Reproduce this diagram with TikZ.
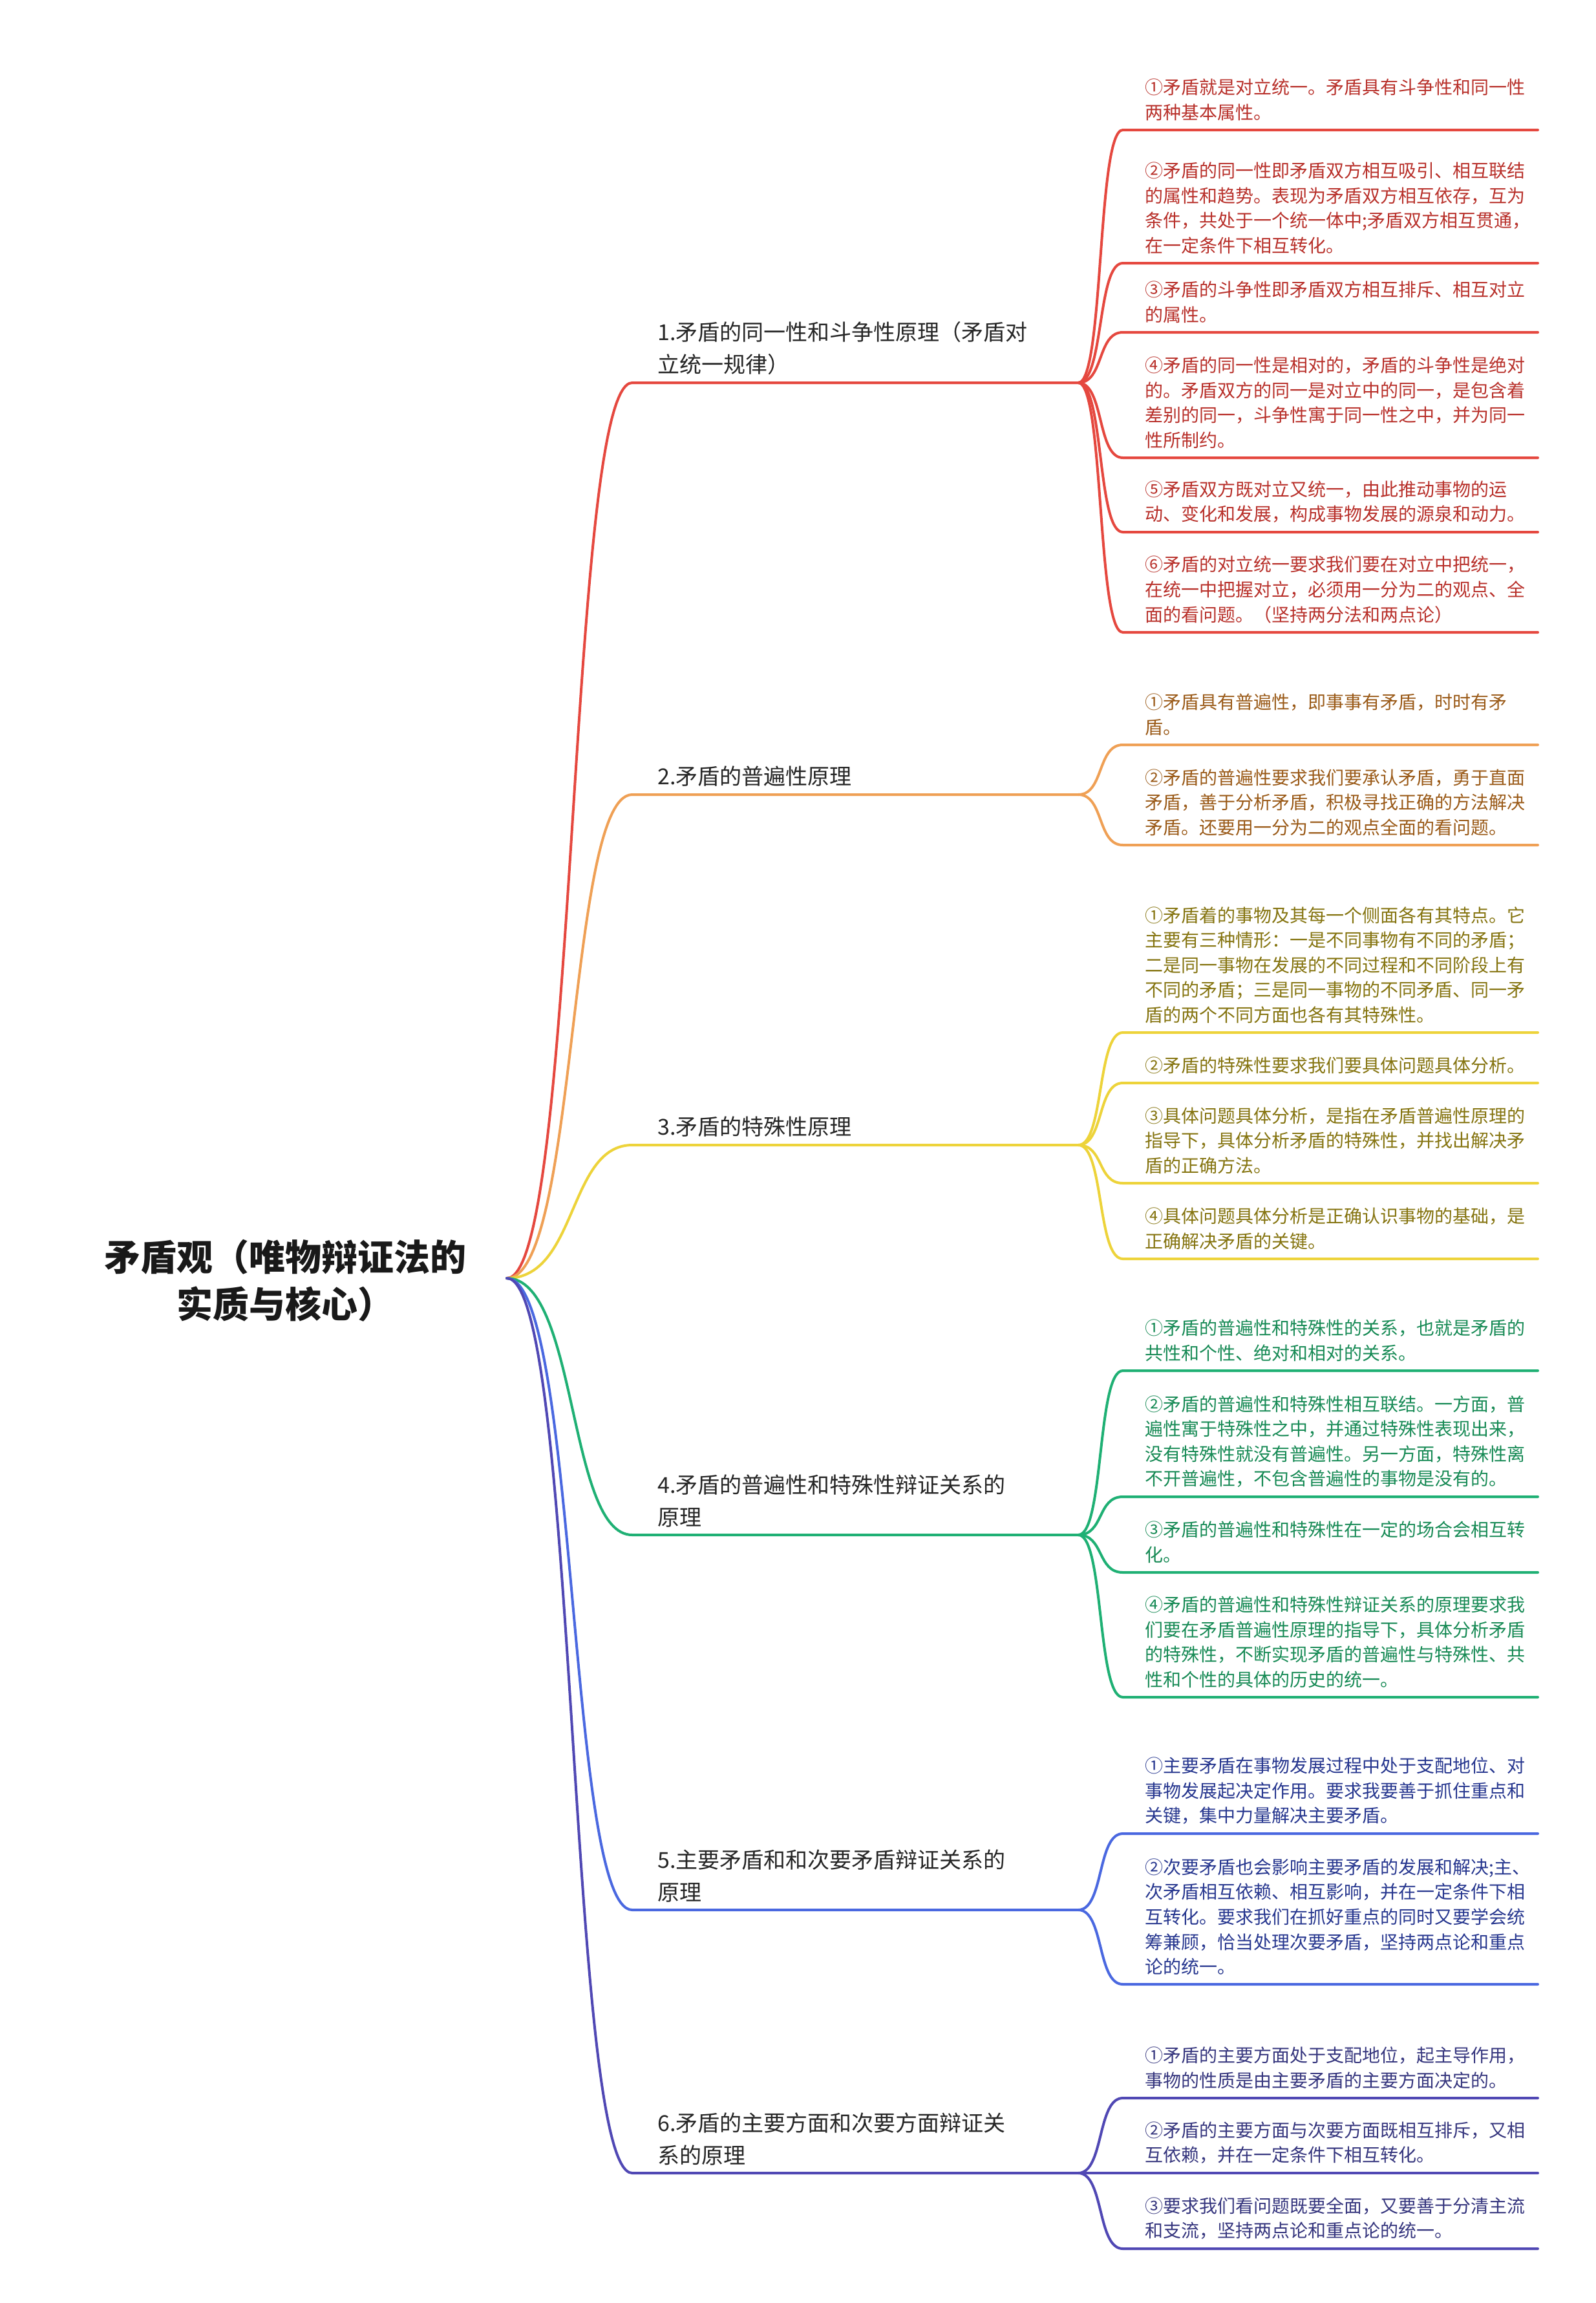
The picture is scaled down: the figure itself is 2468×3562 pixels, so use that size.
\documentclass[tikz,border=0pt]{standalone}
\usepackage{fontspec}
\setmainfont{Noto Sans CJK SC}
\definecolor{cR}{HTML}{E5483F}\definecolor{tR}{HTML}{B8302A}
\definecolor{cO}{HTML}{EFA055}\definecolor{tO}{HTML}{9A5A18}
\definecolor{cY}{HTML}{EDD33A}\definecolor{tY}{HTML}{857410}
\definecolor{cG}{HTML}{1FB074}\definecolor{tG}{HTML}{178A55}
\definecolor{cB}{HTML}{4A68E0}\definecolor{tB}{HTML}{27378F}
\definecolor{cI}{HTML}{5048B4}\definecolor{tI}{HTML}{36367E}
\begin{document}
\begin{tikzpicture}[x=1pt,y=-1pt,
 leaftext/.style={anchor=south west,inner sep=0pt,align=left,font=\fontsize{28}{38.6}\selectfont},
 branchtext/.style={anchor=south west,inner sep=0pt,align=left,font=\fontsize{34}{50}\selectfont,text=black!85},
 conn/.style={line width=4pt,line cap=round}]
\useasboundingbox (0,0) rectangle (2468,3562);
\node[align=center,font=\fontsize{56}{73}\selectfont\bfseries,text=black!90] (root) at (441,1981) {矛盾观（唯物辩证法的\\实质与核心）};
\coordinate (r) at (784,1977);
% macro-like helper
\newcommand\mybranch[5]{% name,color,textcolor,y,text
 \coordinate (#1s) at (978,#4); \coordinate (#1e) at (1668,#4);
 \node[branchtext] (#1t) at (1017,#4-12) {#5};
 \draw[conn,#2] (r) .. controls +(110,0) and +(-100,0) .. (#1s) -- (#1e);}
\newcommand\myleaf[6]{% name,branch,color,textcolor,y,text
 \coordinate (#1s) at (1737,#5); \coordinate (#1e) at (2379,#5);
 \node[leaftext,text=#4] (#1t) at (1771,#5-14) {#6};
 \draw[conn,#3] (#2e) .. controls +(40,0) and +(-40,0) .. (#1s) -- (#1e);}
\mybranch{b1}{cR}{}{592}{1.矛盾的同一性和斗争性原理（矛盾对\\立统一规律）}
\myleaf{l11}{b1}{cR}{tR}{201}{①矛盾就是对立统一。矛盾具有斗争性和同一性\\两种基本属性。}
\myleaf{l12}{b1}{cR}{tR}{407}{②矛盾的同一性即矛盾双方相互吸引、相互联结\\的属性和趋势。表现为矛盾双方相互依存，互为\\条件，共处于一个统一体中;矛盾双方相互贯通，\\在一定条件下相互转化。}
\myleaf{l13}{b1}{cR}{tR}{514}{③矛盾的斗争性即矛盾双方相互排斥、相互对立\\的属性。}
\myleaf{l14}{b1}{cR}{tR}{708}{④矛盾的同一性是相对的，矛盾的斗争性是绝对\\的。矛盾双方的同一是对立中的同一，是包含着\\差别的同一，斗争性寓于同一性之中，并为同一\\性所制约。}
\myleaf{l15}{b1}{cR}{tR}{823}{⑤矛盾双方既对立又统一，由此推动事物的运\\动、变化和发展，构成事物发展的源泉和动力。}
\myleaf{l16}{b1}{cR}{tR}{978}{⑥矛盾的对立统一要求我们要在对立中把统一，\\在统一中把握对立，必须用一分为二的观点、全\\面的看问题。（坚持两分法和两点论）}
\mybranch{b2}{cO}{}{1229}{2.矛盾的普遍性原理}
\myleaf{l21}{b2}{cO}{tO}{1152}{①矛盾具有普遍性，即事事有矛盾，时时有矛\\盾。}
\myleaf{l22}{b2}{cO}{tO}{1307}{②矛盾的普遍性要求我们要承认矛盾，勇于直面\\矛盾，善于分析矛盾，积极寻找正确的方法解决\\矛盾。还要用一分为二的观点全面的看问题。}
\mybranch{b3}{cY}{}{1771}{3.矛盾的特殊性原理}
\myleaf{l31}{b3}{cY}{tY}{1597}{①矛盾着的事物及其每一个侧面各有其特点。它\\主要有三种情形：一是不同事物有不同的矛盾；\\二是同一事物在发展的不同过程和不同阶段上有\\不同的矛盾；三是同一事物的不同矛盾、同一矛\\盾的两个不同方面也各有其特殊性。}
\myleaf{l32}{b3}{cY}{tY}{1675}{②矛盾的特殊性要求我们要具体问题具体分析。}
\myleaf{l33}{b3}{cY}{tY}{1830}{③具体问题具体分析，是指在矛盾普遍性原理的\\指导下，具体分析矛盾的特殊性，并找出解决矛\\盾的正确方法。}
\myleaf{l34}{b3}{cY}{tY}{1947}{④具体问题具体分析是正确认识事物的基础，是\\正确解决矛盾的关键。}
\mybranch{b4}{cG}{}{2374}{4.矛盾的普遍性和特殊性辩证关系的\\原理}
\myleaf{l41}{b4}{cG}{tG}{2120}{①矛盾的普遍性和特殊性的关系，也就是矛盾的\\共性和个性、绝对和相对的关系。}
\myleaf{l42}{b4}{cG}{tG}{2315}{②矛盾的普遍性和特殊性相互联结。一方面，普\\遍性寓于特殊性之中，并通过特殊性表现出来，\\没有特殊性就没有普遍性。另一方面，特殊性离\\不开普遍性，不包含普遍性的事物是没有的。}
\myleaf{l43}{b4}{cG}{tG}{2432}{③矛盾的普遍性和特殊性在一定的场合会相互转\\化。}
\myleaf{l44}{b4}{cG}{tG}{2625}{④矛盾的普遍性和特殊性辩证关系的原理要求我\\们要在矛盾普遍性原理的指导下，具体分析矛盾\\的特殊性，不断实现矛盾的普遍性与特殊性、共\\性和个性的具体的历史的统一。}
\mybranch{b5}{cB}{}{2954}{5.主要矛盾和和次要矛盾辩证关系的\\原理}
\myleaf{l51}{b5}{cB}{tB}{2836}{①主要矛盾在事物发展过程中处于支配地位、对\\事物发展起决定作用。要求我要善于抓住重点和\\关键，集中力量解决主要矛盾。}
\myleaf{l52}{b5}{cB}{tB}{3069}{②次要矛盾也会影响主要矛盾的发展和解决;主、\\次矛盾相互依赖、相互影响，并在一定条件下相\\互转化。要求我们在抓好重点的同时又要学会统\\筹兼顾，恰当处理次要矛盾，坚持两点论和重点\\论的统一。}
\mybranch{b6}{cI}{}{3361}{6.矛盾的主要方面和次要方面辩证关\\系的原理}
\myleaf{l61}{b6}{cI}{tI}{3245}{①矛盾的主要方面处于支配地位，起主导作用，\\事物的性质是由主要矛盾的主要方面决定的。}
\myleaf{l62}{b6}{cI}{tI}{3361}{②矛盾的主要方面与次要方面既相互排斥，又相\\互依赖，并在一定条件下相互转化。}
\myleaf{l63}{b6}{cI}{tI}{3478}{③要求我们看问题既要全面，又要善于分清主流\\和支流，坚持两点论和重点论的统一。}
\end{tikzpicture}
\end{document}
